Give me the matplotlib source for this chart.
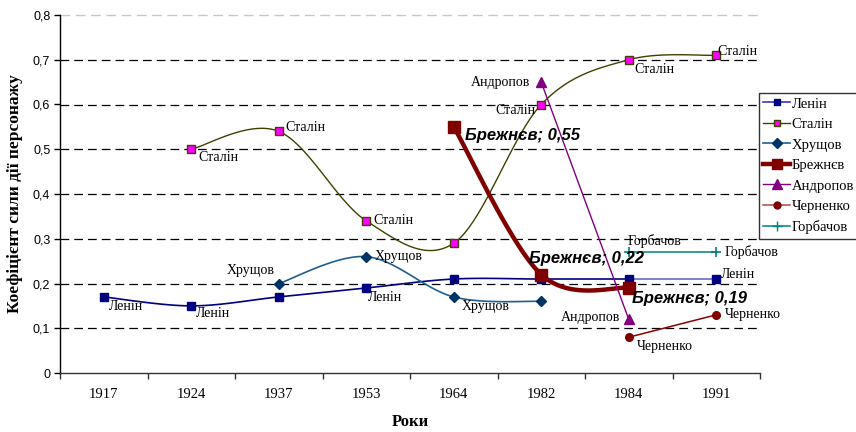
import numpy as np
import matplotlib
matplotlib.use("Agg")
import matplotlib.pyplot as plt
from matplotlib.lines import Line2D

# ---- data ----
years = ["1917", "1924", "1937", "1953", "1964", "1982", "1984", "1991"]

lenin = [0.17, 0.15, 0.17, 0.19, 0.21, 0.21, 0.21, 0.21]
stalin = [None, 0.50, 0.54, 0.34, 0.29, 0.60, 0.70, 0.71]
khrushchev = [None, None, 0.20, 0.26, 0.17, 0.16, None, None]
brezhnev = [None, None, None, None, 0.55, 0.22, 0.19, None]
andropov = [None, None, None, None, None, 0.65, 0.12, None]
chernenko = [None, None, None, None, None, None, 0.08, 0.13]
gorbachev = [None, None, None, None, None, None, 0.27, 0.27]

names = ["Ленін", "Сталін", "Хрущов", "Брежнєв", "Андропов", "Черненко", "Горбачов"]

SERIF = "Liberation Serif"
SANS = "Liberation Sans"


def points(vals):
    xs = [i for i, v in enumerate(vals) if v is not None]
    ys = [v for v in vals if v is not None]
    return np.array(xs, float), np.array(ys, float)


def smooth_segments(xs, ys, n=40):
    # Catmull-Rom style bezier like Excel's "smoothed line"
    segs = []
    pts = np.column_stack([xs, ys])
    m = len(pts)
    for i in range(m - 1):
        p0 = pts[i - 1] if i > 0 else pts[i]
        p1 = pts[i]
        p2 = pts[i + 1]
        p3 = pts[i + 2] if i + 2 < m else pts[i + 1]
        c1 = p1 + (p2 - p0) / 6.0
        c2 = p2 - (p3 - p1) / 6.0
        t = np.linspace(0, 1, n)[:, None]
        b = ((1 - t) ** 3) * p1 + 3 * ((1 - t) ** 2) * t * c1 + 3 * (1 - t) * t ** 2 * c2 + t ** 3 * p2
        segs.append(b)
    return segs


fig = plt.figure(figsize=(8.56, 4.32), dpi=100)
ax = fig.add_axes([60 / 856, 59 / 432, 700 / 856, 358 / 432])

ax.set_xlim(-0.5, 7.5)
ax.set_ylim(0, 0.8)

# gridlines
for g in np.arange(0.1, 0.75, 0.1):
    ax.axhline(g, color="black", lw=0.9, dashes=(7, 4), zorder=0)
ax.axhline(0.8, color="#c8c8c8", lw=1.0, dashes=(7, 4), zorder=0, clip_on=False)

# ---- series ----
styles = {
    "Ленін": dict(color="#000080", lw=1.2, marker="s", ms=5.5, mfc="#000080", mec="#000080"),
    "Сталін": dict(color="#404000", lw=1.0, marker="s", ms=5.5, mfc="#ff00ff", mec="#404000"),
    "Хрущов": dict(color="#1f5f8f", lw=1.2, marker="D", ms=5.5, mfc="#003366", mec="#003366"),
    "Брежнєв": dict(color="#800000", lw=3.2, marker="s", ms=8, mfc="#800000", mec="#800000"),
    "Андропов": dict(color="#800080", lw=1.0, marker="^", ms=7, mfc="#800080", mec="#800080"),
    "Черненко": dict(color="#8b0000", lw=1.1, marker="o", ms=5.5, mfc="#800000", mec="#800000"),
    "Горбачов": dict(color="#008080", lw=1.1, marker="+", ms=7, mfc="#008080", mec="#008080"),
}
series = [lenin, stalin, khrushchev, brezhnev, andropov, chernenko, gorbachev]
smooth = {"Ленін": True, "Сталін": True, "Хрущов": True, "Брежнєв": True,
          "Андропов": False, "Черненко": False, "Горбачов": False}

for name, vals in zip(names, series):
    st = styles[name]
    xs, ys = points(vals)
    if smooth[name]:
        segs = smooth_segments(xs, ys)
        for k, seg in enumerate(segs):
            col = st["color"]
            if name == "Ленін" and k == len(segs) - 1:
                col = "#6a6ac8"
            ax.plot(seg[:, 0], seg[:, 1], color=col, lw=st["lw"], zorder=3,
                    solid_capstyle="butt")
    else:
        ax.plot(xs, ys, color=st["color"], lw=st["lw"], zorder=3)
    ax.plot(xs, ys, ls="none", marker=st["marker"], ms=st["ms"], mfc=st["mfc"],
            mec=st["mec"], mew=1.0 if st["marker"] != "+" else 1.2, zorder=4)

# ---- data labels: (series, index, dx, dy, ha, va) offsets in points ----
labels = [
    (lenin, 0, 4, -2, "left", "top", "Ленін"),
    (lenin, 1, 3, -1, "left", "top", "Ленін"),
    (lenin, 3, 1, -2, "left", "top", "Ленін"),
    (lenin, 7, 3, 3, "left", "center", "Ленін"),
    (stalin, 1, 5, -1, "left", "top", "Сталін"),
    (stalin, 2, 5, 3, "left", "center", "Сталін"),
    (stalin, 3, 5, 0, "left", "center", "Сталін"),
    (stalin, 5, -4, -4, "right", "center", "Сталін"),
    (stalin, 6, 4, -2, "left", "top", "Сталін"),
    (stalin, 7, 1, 3, "left", "center", "Сталін"),
    (khrushchev, 2, -3, 5, "right", "bottom", "Хрущов"),
    (khrushchev, 3, 6, 0, "left", "center", "Хрущов"),
    (khrushchev, 4, 6, -2, "left", "top", "Хрущов"),
    (andropov, 5, -8, 0, "right", "center", "Андропов"),
    (andropov, 6, -6, 1, "right", "center", "Андропов"),
    (chernenko, 6, 6, -2, "left", "top", "Черненко"),
    (chernenko, 7, 6, 0, "left", "center", "Черненко"),
    (gorbachev, 6, -1, 3, "left", "bottom", "Горбачов"),
    (gorbachev, 7, 6, 0, "left", "center", "Горбачов"),
]
for vals, i, dx, dy, ha, va, txt in labels:
    ax.annotate(txt, (i, vals[i]), xytext=(dx, dy), textcoords="offset points",
                ha=ha, va=va, fontsize=10, family=SERIF, zorder=5)

brez_labels = [
    (4, 8, -6, "left", "center"),
    (5, -9, 6, "left", "bottom"),
    (6, 2, -2, "left", "top"),
]
for i, dx, dy, ha, va in brez_labels:
    txt = "Брежнєв; " + f"{brezhnev[i]:.2f}".replace(".", ",")
    ax.annotate(txt, (i, brezhnev[i]), xytext=(dx, dy), textcoords="offset points",
                ha=ha, va=va, fontsize=12, family=SANS, fontweight="bold",
                fontstyle="italic", zorder=5)

# ---- axes ----
ax.spines["top"].set_visible(False)
ax.spines["right"].set_visible(False)
ax.spines["left"].set_linewidth(1.0)
ax.spines["bottom"].set_color("#333333")
ax.spines["bottom"].set_linewidth(1.0)

ax.set_yticks(np.arange(0, 0.81, 0.1))
ax.set_yticklabels(["0"] + [f"{v:.1f}".replace(".", ",") for v in np.arange(0.1, 0.81, 0.1)],
                   family=SANS, fontsize=9)
ax.tick_params(axis="y", direction="out", length=4, width=1, pad=3)

ax.set_xticks(np.arange(-0.5, 8, 1))
ax.set_xticklabels([])
ax.tick_params(axis="x", which="major", direction="out", length=4, width=1, color="#333333")
ax.set_xticks(np.arange(8), minor=True)
ax.set_xticklabels(years, minor=True, family=SERIF, fontsize=10.5)
ax.tick_params(axis="x", which="minor", length=0, pad=11)

ax.set_xlabel("Роки", family=SERIF, fontsize=12, fontweight="bold", labelpad=9)
ax.set_ylabel("Коефіцієнт сили дії персонажу", family=SERIF, fontsize=12.5,
              fontweight="bold", labelpad=7)

# ---- legend ----
handles = []
for name in names:
    st = styles[name]
    lc = st["color"]
    if name == "Черненко":
        lc = "#b04848"
    if name == "Ленін":
        lc = "#3a3aa8"
    handles.append(Line2D([], [], color=lc, lw=st["lw"] if name != "Брежнєв" else 3.2,
                          marker=st["marker"], ms=st["ms"] - 0.5, mfc=st["mfc"], mec=st["mec"]))
leg = fig.legend(handles, names, loc="upper left", bbox_to_anchor=(759 / 856, 1 - 93 / 432),
                 prop={"family": SERIF, "size": 10.5}, frameon=True, fancybox=False,
                 edgecolor="black", handlelength=1.8, handletextpad=0.15,
                 labelspacing=0.5, borderpad=0.3, borderaxespad=0)
leg.get_frame().set_linewidth(1.0)

fig.savefig("out.png", dpi=100)
